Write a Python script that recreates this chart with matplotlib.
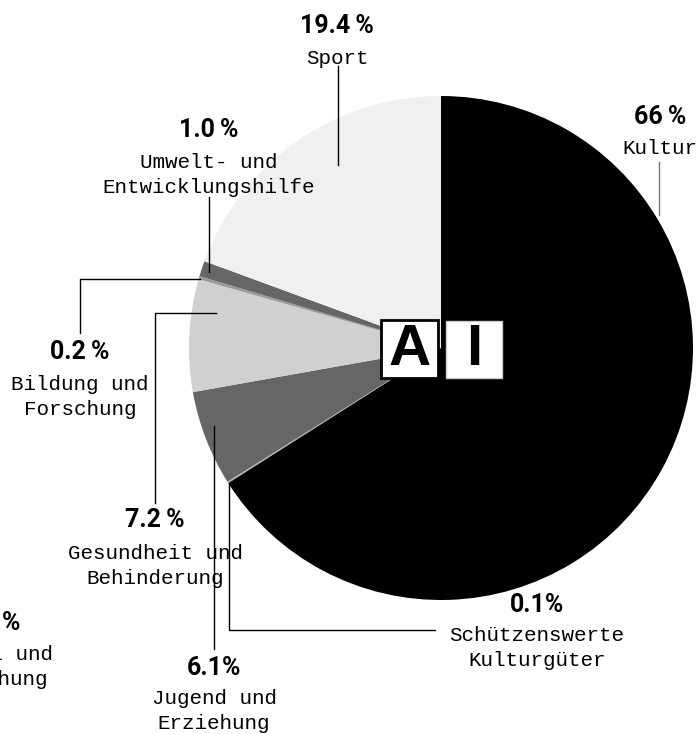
import matplotlib
matplotlib.use("Agg")
import matplotlib.pyplot as plt
from matplotlib.patches import Rectangle

# ====== 数据 ======
categories = ["Kultur", "Schützenswerte\nKulturgüter", "Jugend und\nErziehung",
              "Gesundheit und\nBehinderung", "Bildung und\nForschung",
              "Umwelt- und\nEntwicklungshilfe", "Sport"]
shares = [66.0, 0.1, 6.1, 7.2, 0.2, 1.0, 19.4]
pct_labels = ["66\u2009%", "0.1%", "6.1%", "7.2\u2009%", "0.2\u2009%", "1.0\u2009%", "19.4\u2009%"]
colors = ["#000000", "#a8a8a8", "#666666", "#d0d0d0", "#9a9a9a", "#666666", "#f0f0f0"]

# 被裁切的残留标签 (左下角)
ghost_pct = "0.4\u2009%"
ghost_name = "Sozial und\nForschung"

W, H = 696, 734
def Y(y):
    return H - y

MONO = ["Liberation Mono", "DejaVu Sans Mono"]
PCTF = ["Roboto", "DejaVu Sans"]

fig = plt.figure(figsize=(W / 100, H / 100), dpi=100)
ax = fig.add_axes([0, 0, 1, 1])

ax.pie(shares, colors=colors, startangle=90, counterclock=False,
       radius=252, center=(441, Y(348)), wedgeprops=dict(linewidth=0))

ax.set_xlim(0, W)
ax.set_ylim(0, H)
ax.set_aspect("equal")
ax.axis("off")

# ====== 标签布局: (x, 百分比 y, 名称 y, 引线点) ======
layout = [
    (660, 117, 148, [(659, 162), (659, 215)]),
    (537, 605, 648, [(435, 630), (229, 630), (229, 484)]),
    (214, 668, 711, [(214, 649), (214, 426)]),
    (155, 520, 566, [(155, 503), (155, 313), (216, 313)]),
    (80, 352, 397, [(80, 333), (80, 279), (200, 279)]),
    (209, 130, 175, [(209, 197), (209, 272)]),
    (337, 26, 58, [(338, 66), (338, 165)]),
]

for i, (x, yp, yn, pts) in enumerate(layout):
    ax.text(x, Y(yp), pct_labels[i], ha="center", va="center", fontsize=18,
            fontweight="bold", family=PCTF)
    ax.text(x, Y(yn), categories[i], ha="center", va="center", fontsize=15,
            family=MONO, linespacing=1.35)
    lc = "#777777" if i == 0 else "black"
    ax.plot([p[0] for p in pts], [Y(p[1]) for p in pts], color=lc, lw=1)

ax.text(-9, Y(623), ghost_pct, ha="center", va="center", fontsize=18,
        fontweight="bold", family=PCTF)
ax.text(-9, Y(667), ghost_name, ha="center", va="center", fontsize=15,
        family=MONO, linespacing=1.35)

# ====== 中心 "A I" 方框 ======
ax.add_patch(Rectangle((381, Y(378)), 57, 58, facecolor="white",
                       edgecolor="black", lw=2, zorder=5))
ax.add_patch(Rectangle((446, Y(378)), 56, 57, facecolor="white",
                       edgecolor="#cccccc", lw=1, zorder=5))
ax.text(409.5, Y(350), "A", ha="center", va="center", fontsize=42,
        fontweight="bold", family=["Liberation Sans", "DejaVu Sans"], zorder=6)
ax.text(474, Y(350), "I", ha="center", va="center", fontsize=42,
        fontweight="bold", family=["Liberation Sans", "DejaVu Sans"], zorder=6)

fig.savefig("out.png", dpi=100)
